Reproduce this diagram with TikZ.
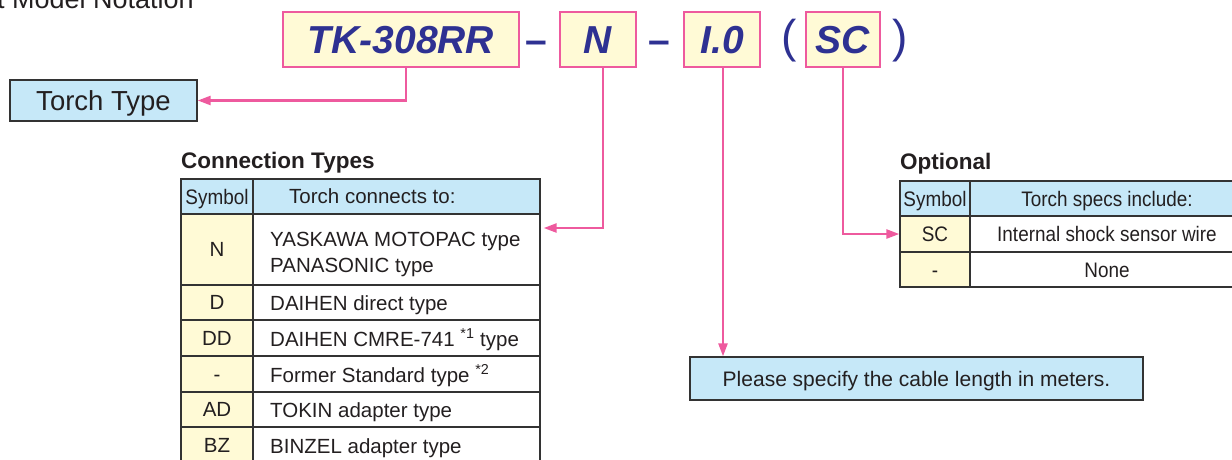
\documentclass[tikz,border=0pt]{standalone}
\usepackage{fontspec}
\setmainfont{Liberation Sans}
\newfontfamily\narrowfont[FakeStretch=0.9]{Liberation Sans}
\usetikzlibrary{arrows.meta,calc}
\definecolor{pinkc}{HTML}{EE5A9E}
\definecolor{yelc}{HTML}{FFFAD6}
\definecolor{bluec}{HTML}{C6E8F8}
\definecolor{navyc}{HTML}{2E3192}
\definecolor{tblc}{HTML}{333333}
\definecolor{txtc}{HTML}{231F20}
\tikzset{
  codebox/.style={draw=pinkc, line width=2.6pt, fill=yelc, inner sep=0pt, minimum height=55pt,
     font=\fontsize{39}{44}\selectfont\bfseries\itshape, text=navyc, text height=27.9pt, text depth=0pt},
  codesep/.style={font=\fontsize{39}{44}\selectfont\bfseries, text=navyc, inner sep=0pt},
  paren/.style={font=\fontsize{46}{50}\selectfont, text=navyc, inner sep=0pt},
  conn/.style={draw=pinkc, line width=2.4pt, -{Triangle[length=13pt,width=9pt]}},
  cell/.style={draw=tblc, line width=1.3pt, inner sep=0pt, text=txtc,
     font=\fontsize{20.5}{24}\selectfont, text height=14.7pt, text depth=0pt},
  ncell/.style={cell, font=\fontsize{21}{24}\selectfont\narrowfont, text height=15pt},
  symcell/.style={cell, fill=yelc},
  headcell/.style={fill=bluec},
  celltxt/.style={inner sep=0pt, text=txtc, font=\fontsize{20.5}{24}\selectfont,
     text height=14.7pt, text depth=0pt, anchor=west},
  title/.style={inner sep=0pt, text=txtc, font=\fontsize{22.5}{26}\selectfont\bfseries,
     text height=16.1pt, text depth=0pt, anchor=west},
  bluebox/.style={draw=tblc, line width=1.3pt, fill=bluec, inner sep=0pt, text=txtc, text depth=0pt}
}
\begin{document}
\begin{tikzpicture}[x=1pt,y=-1pt]
\useasboundingbox (0,0) rectangle (1232,459);

% heading (cut at the top)
\node[anchor=base west, inner sep=0pt, text=txtc, font=\fontsize{27}{30}\selectfont] (head) at (-3,8) {t Model Notation};

% model code
\node[codebox, minimum width=236pt] (tk) at (401,39.5) {TK-308RR};
\node[codesep] (d1) at (536,47) {–};
\node[codesep] (d2) at (659,47) {–};
\node[codebox, minimum width=76pt] (n) at (598,39.5) {N};
\node[codebox, minimum width=76pt] (len) at (722,39.5) {I.0};
\node[paren] (lp) at (789,41) {(};
\node[codebox, minimum width=74pt] (sc) at (843,39.5) {SC};
\node[paren] (rp) at (900,41) {)};

% torch type
\node[bluebox, minimum width=187pt, minimum height=41pt, font=\fontsize{27.5}{30}\selectfont, text height=19.7pt] (torch) at (103.5,100.5) {Torch Type};

% Connection types table
\node[title] (cttitle) at (181,160) {Connection Types};
\node[ncell, headcell, minimum width=72pt, minimum height=35pt] (cth1) at (217,196.5) {Symbol};
\node[cell, headcell, minimum width=287pt, minimum height=35pt] (cth2) at (396.5,196.5) {};
\node[celltxt] (cth2t) at (289,196.5) {Torch connects to:};

\node[symcell, minimum width=72pt, minimum height=71pt] (ctns) at (217,249.5) {N};
\node[cell, minimum width=287pt, minimum height=71pt] (ctnt) at (396.5,249.5) {};
\node[celltxt] (ctnt1) at (270,239) {YASKAWA MOTOPAC type};
\node[celltxt] (ctnt2) at (270,265) {PANASONIC type};

\node[symcell, minimum width=72pt, minimum height=35pt] (ctds) at (217,302.5) {D};
\node[cell, minimum width=287pt, minimum height=35pt] (ctdt) at (396.5,302.5) {};
\node[celltxt] (ctdtx) at (270,303.5) {DAIHEN direct type};

\node[symcell, minimum width=72pt, minimum height=36pt] (ctdds) at (217,338) {DD};
\node[cell, minimum width=287pt, minimum height=36pt] (ctddt) at (396.5,338) {};
\node[celltxt] (ctddtx) at (270,339) {DAIHEN CMRE-741 \textsuperscript{*1} type};

\node[symcell, minimum width=72pt, minimum height=36pt] (ctfs) at (217,374) {-};
\node[cell, minimum width=287pt, minimum height=36pt] (ctft) at (396.5,374) {};
\node[celltxt] (ctftx) at (270,375) {Former Standard type \textsuperscript{*2}};

\node[symcell, minimum width=72pt, minimum height=35pt] (ctads) at (217,409.5) {AD};
\node[cell, minimum width=287pt, minimum height=35pt] (ctadt) at (396.5,409.5) {};
\node[celltxt] (ctadtx) at (270,410.5) {TOKIN adapter type};

\node[symcell, minimum width=72pt, minimum height=36pt] (ctbzs) at (217,445) {BZ};
\node[cell, minimum width=287pt, minimum height=36pt] (ctbzt) at (396.5,445) {};
\node[celltxt] (ctbztx) at (270,446) {BINZEL adapter type};

% Optional table
\node[title] (optitle) at (900,161) {Optional};
\node[ncell, headcell, minimum width=70pt, minimum height=35pt] (oh1) at (935,198.5) {Symbol};
\node[ncell, headcell, minimum width=274pt, minimum height=35pt] (oh2) at (1107,198.5) {Torch specs include:};
\node[ncell, fill=yelc, minimum width=70pt, minimum height=36pt] (oscs) at (935,234) {SC};
\node[ncell, minimum width=274pt, minimum height=36pt] (osct) at (1107,234) {Internal shock sensor wire};
\node[ncell, fill=yelc, minimum width=70pt, minimum height=35pt] (onos) at (935,269.5) {-};
\node[ncell, minimum width=274pt, minimum height=35pt] (onot) at (1107,269.5) {None};

% cable length box
\node[bluebox, minimum width=453pt, minimum height=43pt, font=\fontsize{21}{24}\selectfont, text height=15pt] (please) at (916.5,378.5) {Please specify the cable length in meters.};

% connectors
\draw[conn] ([xshift=5pt]tk.south) |- (torch.east);
\draw[conn] ([xshift=5pt]n.south) |- ([xshift=3pt,yshift=21.5pt]ctnt.east);
\draw[conn] ([xshift=1pt]len.south) -- ([xshift=1pt]len.south |- please.north);
\draw[conn] (sc.south) |- (oscs.west);
\end{tikzpicture}
\end{document}
